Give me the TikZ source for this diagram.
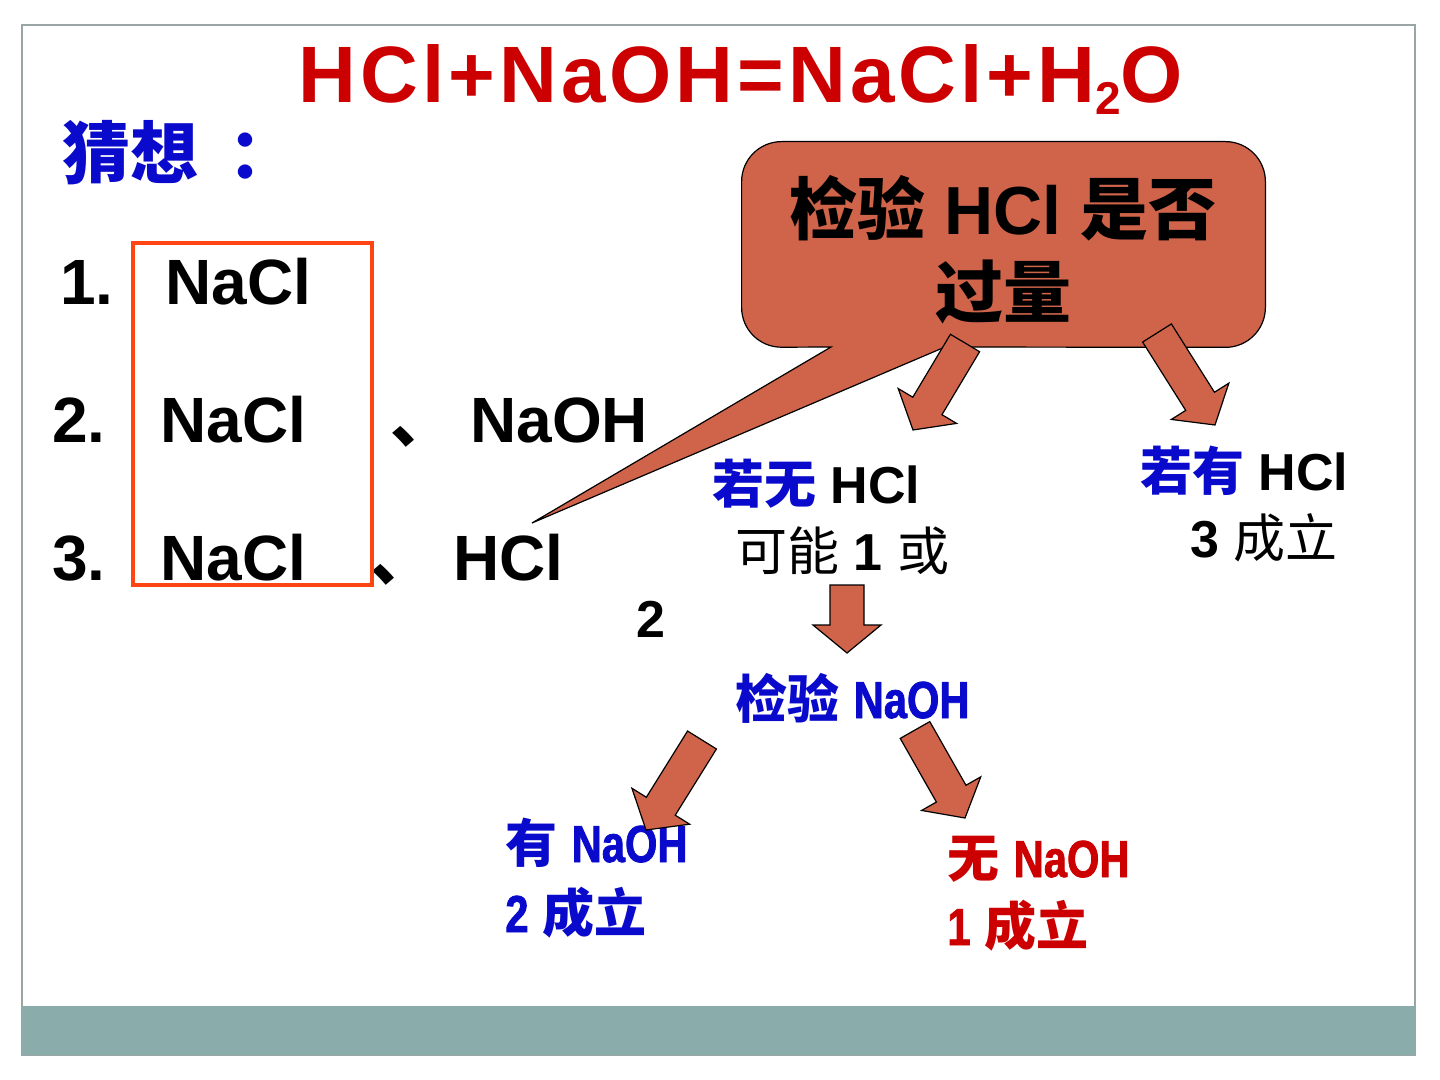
\documentclass[tikz,border=0pt]{standalone}
\usepackage{fontspec}
\setmainfont{Liberation Sans}
\newfontfamily\cjk{Noto Sans CJK SC}
\newfontfamily\widesf{Liberation Sans}[LetterSpace=5]
\newfontfamily\narrowsf{Liberation Sans Bold}[FakeStretch=0.8, FakeBold=1.5]
\usetikzlibrary{calc}
\definecolor{ArrowFill}{HTML}{D0644A}
\definecolor{GuessBlue}{HTML}{0A0ACC}
\definecolor{TitleRed}{HTML}{CC0000}
\definecolor{BoxRed}{HTML}{FF4514}
\definecolor{BandTeal}{HTML}{8AACAA}
\definecolor{FrameGray}{HTML}{9AA5A5}

\newcommand{\blockarrow}[2]{%
  \coordinate (hb) at ($(#2)!14pt!(#1)$);
  \draw[blk] ($(#1)!8.5pt!90:(#2)$) -- ($(hb)!8.5pt!90:(#2)$) -- ($(hb)!17pt!90:(#2)$) -- (#2)
    -- ($(hb)!17pt!-90:(#2)$) -- ($(hb)!8.5pt!-90:(#2)$) -- ($(#1)!8.5pt!-90:(#2)$) -- cycle;
}

\begin{document}
\begin{tikzpicture}[x=0.5pt, y=-0.5pt,
    head/.style={anchor=base, inner sep=0pt, text=TitleRed, font=\widesf\bfseries\fontsize{40}{48}\selectfont},
    item/.style={anchor=base west, inner sep=0pt, font=\bfseries\fontsize{32}{38}\selectfont},
    note/.style={anchor=base west, inner sep=0pt, font=\bfseries\fontsize{26}{31}\selectfont},
    blk/.style={draw=black, fill=ArrowFill, line width=0.6pt, line join=miter},
    bubble/.style={draw=black, fill=ArrowFill, line width=0.6pt}
  ]
    \useasboundingbox (0,0) rectangle (1440,1080);
    \fill[white] (0,0) rectangle (1440,1080);
    \draw[FrameGray, line width=0.8pt] (22,25) rectangle (1415,1055);
    \fill[BandTeal] (22,1006) rectangle (1415,1055);

    \node[head] (title) at (741,103) {HCl+NaOH=NaCl+H\raisebox{-6pt}{\fontsize{23}{23}\selectfont 2}O};
    \node[item, anchor=west, text=GuessBlue, font=\bfseries\fontsize{34}{40}\selectfont] (guess) at (62,153) {{\cjk 猜想}\hspace{15pt}{\cjk ：}};

    \node[item] (n1) at (60,305) {1.};
    \node[item] (s1) at (165,305) {NaCl};
    \node[item] (n2) at (52,443) {2.};
    \node[item] (s2) at (160,443) {NaCl};
    \node[item] (c2) at (390,443) {\cjk 、};
    \node[item] (s2b) at (470,443) {NaOH};
    \node[item] (n3) at (52,580) {3.};
    \node[item] (s3) at (160,580) {NaCl};
    \node[item] (c3) at (370,580) {\cjk 、};
    \node[item] (s3b) at (453,580) {HCl};
    \draw[BoxRed, line width=2pt] (133,243) rectangle (372,585);

    \node[minimum width=261.5pt, minimum height=102.5pt, inner sep=0pt] (chk) at (1003.5,244.5) {};
    \coordinate (tbL) at (831,347);
    \coordinate (tbR) at (945,347);
    \coordinate (tip) at (532,523);
    \draw[bubble] (chk.north) [rounded corners=20pt] -- (chk.north east) -- (chk.south east)
      [sharp corners] -- (tbR) -- (tip) -- (tbL) [rounded corners=20pt] -- (chk.south west) -- (chk.north west) -- cycle;
    \node[align=center, inner sep=0pt, font=\bfseries\fontsize{34}{41.5}\selectfont] (chktxt) at (1003,250)
      {{\cjk 检验} HCl {\cjk 是否}\\{\cjk 过量}};

    \node[note] (nohcl) at (712,503) {{\cjk\color{GuessBlue}若无} HCl};
    \node[note] (maybe) at (735,570) {{\cjk\mdseries 可能} 1 {\cjk\mdseries 或}};
    \node[note] (two) at (636,637) {2};
    \node[note] (hashcl) at (1140,490) {{\cjk\color{GuessBlue}若有} HCl};
    \node[note] (res3) at (1190,557) {3 {\cjk\mdseries 成立}};
    \node[note, text=GuessBlue] (chknaoh) at (735,718) {{\cjk 检验} {\narrowsf NaOH}};
    \node[note, text=GuessBlue] (hasnaoh) at (505,862) {{\cjk 有} {\narrowsf NaOH}};
    \node[note, text=GuessBlue] (res2) at (505,932) {{\narrowsf 2} {\cjk 成立}};
    \node[note, text=TitleRed] (nonaoh) at (947,877) {{\cjk 无} {\narrowsf NaOH}};
    \node[note, text=TitleRed] (res1) at (947,945) {{\narrowsf 1} {\cjk 成立}};

    \coordinate (a1s) at (965,343);
    \coordinate (a1e) at (913,430);
    \coordinate (a2s) at (1157,333);
    \coordinate (a2e) at (1215,425);
    \coordinate (a3s) at (847,585);
    \coordinate (a3e) at (847,653);
    \coordinate (a4s) at (702,740);
    \coordinate (a4e) at (646,830);
    \coordinate (a5s) at (915,730);
    \coordinate (a5e) at (965,818);
    \blockarrow{a1s}{a1e}
    \blockarrow{a2s}{a2e}
    \blockarrow{a3s}{a3e}
    \blockarrow{a4s}{a4e}
    \blockarrow{a5s}{a5e}
  \end{tikzpicture}
\end{document}
